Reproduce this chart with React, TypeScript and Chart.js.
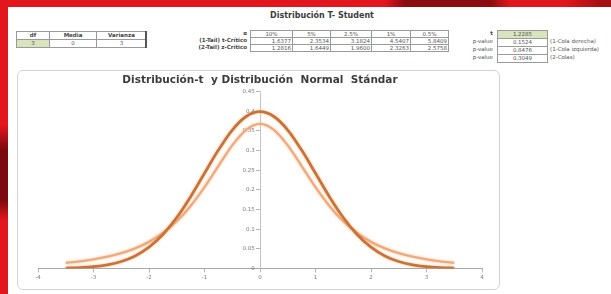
import React, { useEffect, useRef } from "react";
import { Chart, registerables } from "chart.js";

Chart.register(...registerables);

// ---- Data ----
const xValues = [
  -3.5, -3.25, -3, -2.75, -2.5, -2.25, -2, -1.75, -1.5, -1.25, -1, -0.75, -0.5, -0.25, 0,
  0.25, 0.5, 0.75, 1, 1.25, 1.5, 1.75, 2, 2.25, 2.5, 2.75, 3, 3.25, 3.5,
];
const normalPdf = [
  0.0009, 0.002, 0.0044, 0.0091, 0.0175, 0.0317, 0.054, 0.0863, 0.1295, 0.1826, 0.242, 0.3011, 0.3521, 0.3867, 0.3989,
  0.3867, 0.3521, 0.3011, 0.242, 0.1826, 0.1295, 0.0863, 0.054, 0.0317, 0.0175, 0.0091, 0.0044, 0.002, 0.0009,
];
const tStudentPdf = [
  0.0142, 0.018, 0.023, 0.0297, 0.0387, 0.0509, 0.0675, 0.09, 0.12, 0.1589, 0.2067, 0.2606, 0.3132, 0.3527, 0.3676,
  0.3527, 0.3132, 0.2606, 0.2067, 0.1589, 0.12, 0.09, 0.0675, 0.0509, 0.0387, 0.0297, 0.023, 0.018, 0.0142,
];
const xTicks = [-4, -3, -2, -1, 0, 1, 2, 3, 4];
const yTicks = [0, 0.05, 0.1, 0.15, 0.2, 0.25, 0.3, 0.35, 0.4, 0.45];

const paramHeaders = ["df", "Media", "Varianza"];
const paramValues = ["3", "0", "3"];
const critHeaders = ["10%", "5%", "2.5%", "1%", "0.5%"];
const tCritical = ["1.6377", "2.3534", "3.1824", "4.5407", "5.8409"];
const zCritical = ["1.2816", "1.6449", "1.9600", "2.3263", "2.5758"];
const rowLabels = ["α", "(1-Tail) t-Crítico", "(2-Tail) z-Crítico"];
const tStat = "1.2285";
const pValues = ["0.1524", "0.8476", "0.3049"];
const pLabels = ["(1-Cola derecha)", "(1-Cola izquierda)", "(2-Colas)"];

const FONT = "'DejaVu Sans', Verdana, sans-serif";
const GRID = "#9a9a9a";

type CellProps = {
  x1: number; x2: number; y1: number; y2: number; text: string;
  align?: "left" | "center" | "right"; bg?: string; bold?: boolean; border?: boolean; color?: string;
};

function Cell({ x1, x2, y1, y2, text, align = "center", bg, bold, border = true, color = "#555" }: CellProps) {
  return (
    <div
      style={{
        position: "absolute",
        left: x1,
        top: y1,
        width: x2 - x1 + (border ? 1 : 0),
        height: y2 - y1 + (border ? 1 : 0),
        boxSizing: "border-box",
        border: border ? `1px solid ${GRID}` : "none",
        background: bg,
        fontFamily: FONT,
        fontSize: 5.5,
        fontWeight: bold ? 700 : 400,
        color,
        textAlign: align,
        lineHeight: `${y2 - y1 - 1}px`,
        paddingRight: align === "right" ? 1 : 0,
        whiteSpace: "nowrap",
        overflow: "visible",
      }}
    >
      {text}
    </div>
  );
}

const glowPlugin = {
  id: "lineGlow",
  beforeDatasetsDraw(chart: any) {
    const ctx = chart.ctx;
    ctx.save();
    ctx.shadowColor = "rgba(245,160,90,0.55)";
    ctx.shadowBlur = 3;
  },
  afterDatasetsDraw(chart: any) {
    chart.ctx.restore();
  },
};

function TChart() {
  const ref = useRef<HTMLCanvasElement>(null);
  useEffect(() => {
    const tickFont = { family: FONT, size: 5.5 };
    const chart = new Chart(ref.current!, {
      type: "line",
      data: {
        datasets: [
          {
            label: "Normal",
            data: xValues.map((x, i) => ({ x, y: normalPdf[i] })),
            borderColor: "#c9733a",
            borderWidth: 2.8,
            pointRadius: 0,
            cubicInterpolationMode: "monotone",
            fill: false,
          },
          {
            label: "t-Student",
            data: xValues.map((x, i) => ({ x, y: tStudentPdf[i] })),
            borderColor: "#f0a97c",
            borderWidth: 2.3,
            pointRadius: 0,
            cubicInterpolationMode: "monotone",
            fill: false,
          },
        ],
      },
      options: {
        responsive: false,
        animation: false,
        layout: { padding: { left: 20, right: 17, top: 0, bottom: 6 } },
        plugins: {
          legend: { display: false },
          tooltip: { enabled: false },
          title: {
            display: true,
            text: "Distribución-t  y Distribución  Normal  Stándar",
            font: { family: FONT, size: 10.5, weight: "bold" },
            color: "#3c3c3c",
            padding: { top: 3, bottom: 5 },
          },
        },
        scales: {
          x: {
            type: "linear",
            min: -4,
            max: 4,
            afterBuildTicks: (s: any) => {
              s.ticks = xTicks.map((v) => ({ value: v }));
            },
            ticks: { font: tickFont, color: "#7a7a7a", padding: 2, maxRotation: 0 },
            grid: { display: true, drawOnChartArea: false, tickLength: 4, color: "#b5b5b5" },
            border: { color: "#a8a8a8" },
          },
          y: {
            type: "linear",
            position: { x: 0 } as any,
            min: 0,
            max: 0.45,
            afterBuildTicks: (s: any) => {
              s.ticks = yTicks.map((v) => ({ value: v }));
            },
            ticks: {
              font: tickFont,
              color: "#7a7a7a",
              padding: 3,
              callback: (v: any) => String(Number(Number(v).toFixed(2))) + "   ",
            },
            grid: { display: true, drawOnChartArea: false, tickLength: 4, color: "#b5b5b5" },
            border: { color: "#c4c4c4" },
          },
        },
      },
      plugins: [glowPlugin],
    });
    return () => chart.destroy();
  }, []);
  return <canvas ref={ref} width={481} height={218} style={{ display: "block" }} />;
}

export default function App() {
  const critCols = [250, 292, 330, 371, 410, 448];
  const critRows = [30, 37, 44, 51];
  const paramCols = [16, 49, 96, 146];
  const pRows = [30, 38, 46, 54, 62];
  return (
    <div
      style={{
        position: "fixed",
        left: 0,
        top: 0,
        width: 611,
        height: 294,
        background: "#ffffff",
        overflow: "hidden",
      }}
    >
      {/* red decorations */}
      <div
        style={{
          position: "absolute",
          left: 0,
          top: 0,
          width: 611,
          height: 7,
          background:
            "linear-gradient(to right, #e2161d 0px, #e2161d 385px, #8a0b10 405px, #8a0b10 490px, #e2161d 510px, #e2161d 565px, #a30f14 600px)",
        }}
      />
      <div
        style={{
          position: "absolute",
          left: 0,
          top: 0,
          width: 8,
          height: 294,
          background:
            "linear-gradient(to bottom, #e2161d 0px, #e2161d 125px, #7a0a0e 150px, #7a0a0e 200px, #e2161d 220px, #e2161d 294px)",
        }}
      />

      {/* title */}
      <div
        style={{
          position: "absolute",
          left: 222,
          width: 200,
          top: 11,
          textAlign: "center",
          fontFamily: FONT,
          fontSize: 8,
          fontWeight: 700,
          color: "#3c3c3c",
          lineHeight: "10px",
        }}
      >
        Distribución T- Student
      </div>

      {/* parameters table */}
      {paramHeaders.map((h, i) => (
        <Cell key={"ph" + i} x1={paramCols[i]} x2={paramCols[i + 1]} y1={31} y2={39} text={h} bold color="#444" />
      ))}
      {paramValues.map((v, i) => (
        <Cell
          key={"pv" + i}
          x1={paramCols[i]}
          x2={paramCols[i + 1]}
          y1={39}
          y2={47}
          text={v}
          bg={i === 0 ? "#d7e4bd" : undefined}
        />
      ))}
      <div style={{ position: "absolute", left: 145, top: 31, width: 2, height: 17, background: "#555" }} />

      {/* critical values table */}
      {rowLabels.map((t, r) => (
        <Cell
          key={"rl" + r}
          x1={150}
          x2={248}
          y1={critRows[r]}
          y2={critRows[r + 1]}
          text={t}
          align="right"
          border={false}
          bold
          color="#444"
        />
      ))}
      {critHeaders.map((h, i) => (
        <Cell key={"ch" + i} x1={critCols[i]} x2={critCols[i + 1]} y1={critRows[0]} y2={critRows[1]} text={h} />
      ))}
      {tCritical.map((v, i) => (
        <Cell key={"tc" + i} x1={critCols[i]} x2={critCols[i + 1]} y1={critRows[1]} y2={critRows[2]} text={v} align="right" />
      ))}
      {zCritical.map((v, i) => (
        <Cell key={"zc" + i} x1={critCols[i]} x2={critCols[i + 1]} y1={critRows[2]} y2={critRows[3]} text={v} align="right" />
      ))}

      {/* t stat and p-values */}
      <Cell x1={440} x2={494} y1={pRows[0]} y2={pRows[1]} text="t" align="right" border={false} bold color="#444" />
      <Cell x1={497} x2={547} y1={pRows[0]} y2={pRows[1]} text={tStat} bg="#d7e4bd" />
      {pValues.map((v, i) => (
        <React.Fragment key={"pv" + i}>
          <Cell x1={440} x2={494} y1={pRows[i + 1]} y2={pRows[i + 2]} text="p-value" align="right" border={false} />
          <Cell x1={497} x2={547} y1={pRows[i + 1]} y2={pRows[i + 2]} text={v} />
          <Cell x1={550} x2={640} y1={pRows[i + 1]} y2={pRows[i + 2]} text={pLabels[i]} align="left" border={false} />
        </React.Fragment>
      ))}

      {/* chart */}
      <div
        style={{
          position: "absolute",
          left: 17,
          top: 70,
          width: 483,
          height: 220,
          boxSizing: "border-box",
          border: "1px solid #d4d4d4",
          borderRadius: 6,
          background: "#fff",
          overflow: "hidden",
        }}
      >
        <TChart />
      </div>
    </div>
  );
}
